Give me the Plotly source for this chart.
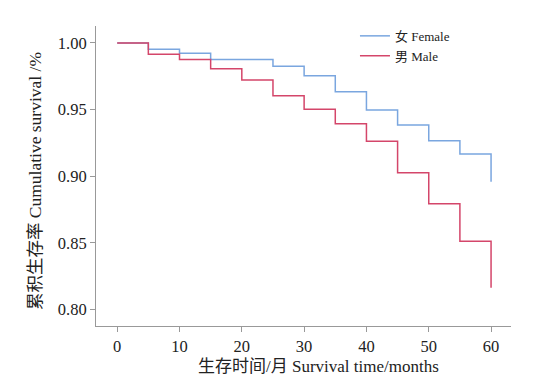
import plotly.graph_objects as go

# Survival time (months) at which each step begins
times = [0, 5, 10, 15, 20, 25, 30, 35, 40, 45, 50, 55, 60]
female_surv = [1.000, 0.9953, 0.9923, 0.9875, 0.9875, 0.9825, 0.9753, 0.9633,
               0.9496, 0.9383, 0.9266, 0.9166, 0.8957]
male_surv = [1.000, 0.9915, 0.9875, 0.9807, 0.9721, 0.9603, 0.9503, 0.9393,
             0.9261, 0.9026, 0.8792, 0.8512, 0.8163]
x_ticks = [0, 10, 20, 30, 40, 50, 60]
y_ticks = [0.80, 0.85, 0.90, 0.95, 1.00]
x_title = "生存时间/月 Survival time/months"
y_title = "累积生存率 Cumulative survival /%"

FONT = "Liberation Serif, Noto Sans CJK SC, serif"

fig = go.Figure()
fig.add_trace(go.Scatter(x=times, y=female_surv, mode="lines", line_shape="hv",
                         name="女 Female", line=dict(color="#7aa6df", width=1.5)))
fig.add_trace(go.Scatter(x=times, y=male_surv, mode="lines", line_shape="hv",
                         name="男 Male", line=dict(color="#d4466a", width=1.5)))

fig.update_layout(
    width=543, height=382,
    margin=dict(l=88, r=40, t=18, b=64, autoexpand=False),
    plot_bgcolor="white", paper_bgcolor="white",
    font=dict(family=FONT, color="#222222", size=16),
    showlegend=True,
    legend=dict(x=0.624, y=1.017, xanchor="left", yanchor="top",
                bgcolor="rgba(0,0,0,0)", font=dict(size=13, family=FONT),
                tracegroupgap=0, itemwidth=30),
    xaxis=dict(range=[-3.4, 63.2], tickvals=x_ticks, ticks="outside", ticklen=5,
               tickcolor="#999999", showline=True, linecolor="#999999", linewidth=1,
               showgrid=False, zeroline=False, automargin=False,
               tickfont=dict(size=16.5, family=FONT)),
    yaxis=dict(range=[0.7875, 1.0127], tickvals=y_ticks, tickformat=".2f", ticks="outside",
               ticklen=5, tickcolor="#999999", showline=True, linecolor="#999999", linewidth=1,
               showgrid=False, zeroline=False, automargin=False,
               tickfont=dict(size=16.5, family=FONT)),
    annotations=[
        dict(text=x_title, xref="paper", yref="paper", x=0.535, y=-0.135,
             xanchor="center", yanchor="middle", showarrow=False,
             font=dict(size=17, family=FONT, color="#222222")),
        dict(text=y_title, xref="paper", yref="paper", x=-0.147, y=0.483,
             xanchor="center", yanchor="middle", showarrow=False, textangle=-90,
             font=dict(size=17.5, family=FONT, color="#222222")),
    ],
)

fig.write_html("out.html")
